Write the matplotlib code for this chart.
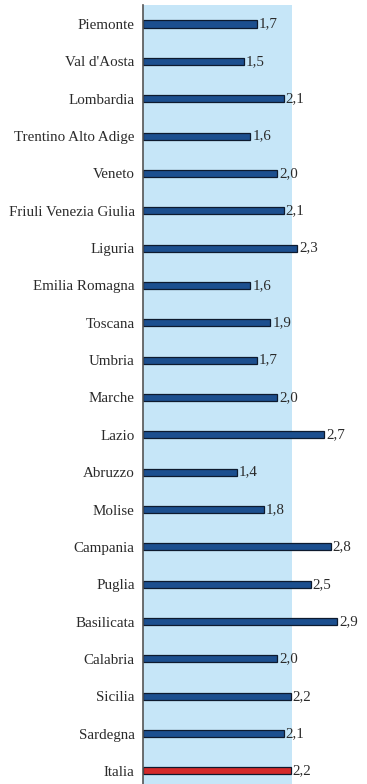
import matplotlib
matplotlib.use("Agg")
import matplotlib.pyplot as plt

regions = ["Piemonte", "Val d'Aosta", "Lombardia", "Trentino Alto Adige", "Veneto",
           "Friuli Venezia Giulia", "Liguria", "Emilia Romagna", "Toscana", "Umbria",
           "Marche", "Lazio", "Abruzzo", "Molise", "Campania", "Puglia", "Basilicata",
           "Calabria", "Sicilia", "Sardegna", "Italia"]
values = [1.7, 1.5, 2.1, 1.6, 2.0, 2.1, 2.3, 1.6, 1.9, 1.7, 2.0, 2.7, 1.4, 1.8,
          2.8, 2.5, 2.9, 2.0, 2.2, 2.1, 2.2]

plt.rcParams['font.family'] = ['Liberation Serif', 'DejaVu Serif']

fig = plt.figure(figsize=(3.67, 7.84), dpi=100)
ax = fig.add_axes([143 / 367, 0.0, 1 - 143 / 367, 779 / 784])

ax.axvspan(0, 2.22, color="#c6e6f8", zorder=0, lw=0)

colors = ["#1c4f8f"] * (len(regions) - 1) + ["#d42a2a"]
y = list(range(len(regions)))
ax.barh(y, values, height=0.19, color=colors, edgecolor="#0d1a2e", linewidth=0.9, zorder=2)

for yi, v in zip(y, values):
    ax.text(v + 0.03, yi, f"{v:.1f}".replace(".", ","), va="center", ha="left",
            fontsize=10.8, color="#2a2a2a")

ax.set_xlim(0, 3.34)
ax.set_ylim(20.35, -0.51)
ax.set_yticks(y)
ax.set_yticklabels(regions, fontsize=10.8, color="#2a2a2a")
ax.tick_params(axis="y", length=0, pad=6)
ax.set_xticks([])
for s in ["top", "right", "bottom"]:
    ax.spines[s].set_visible(False)
ax.spines["left"].set_color("#555555")
ax.spines["left"].set_linewidth(1.2)
ax.set_facecolor("none")

fig.savefig("out.png", dpi=100)
